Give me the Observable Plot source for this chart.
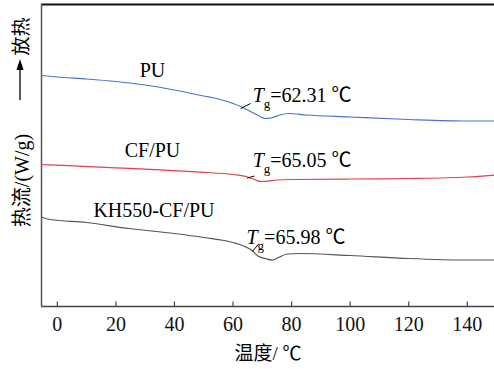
<!DOCTYPE html>
<html><head><meta charset="utf-8">
<script src="https://cdn.jsdelivr.net/npm/d3@7"></script>
<script src="https://cdn.jsdelivr.net/npm/@observablehq/plot@0.6"></script>
<style>body{margin:0;background:#fff} svg{display:block}</style>
</head><body><div id="chart"></div>
<script>
// Series names and their Tg labels
const seriesNames = ["PU", "CF/PU", "KH550-CF/PU"];
const tgValues = ["62.31", "65.05", "65.98"];
const xTicks = [0, 20, 40, 60, 80, 100, 120, 140];

// PU curve (temperature °C, heat flow arbitrary W/g units)
const tempPU = [-5.4, 0, 10, 20, 30, 40, 50, 55, 60, 63, 66, 69, 71, 73, 76, 79, 85, 100, 120, 140, 149.3];
const flowPU = [2.31, 2.295, 2.275, 2.25, 2.215, 2.165, 2.105, 2.075, 2.03, 1.995, 1.95, 1.905, 1.88, 1.885, 1.915, 1.93, 1.915, 1.895, 1.87, 1.855, 1.855];

// CF/PU curve
const tempCF = [-5.4, 0, 20, 35, 49, 60, 65, 67.5, 69, 71, 75, 80, 100, 120, 140, 149.3];
const flowCF = [1.42, 1.413, 1.387, 1.367, 1.343, 1.32, 1.295, 1.268, 1.252, 1.252, 1.265, 1.27, 1.275, 1.28, 1.295, 1.315];

// KH550-CF/PU curve
const tempKH = [-5.4, -2.5, 10, 24.5, 40, 50, 60, 64, 66.5, 68.5, 71, 73.5, 75.5, 78.5, 83, 100, 120, 140, 149.3];
const flowKH = [0.895, 0.87, 0.84, 0.78, 0.73, 0.69, 0.64, 0.60, 0.56, 0.505, 0.48, 0.465, 0.49, 0.525, 0.53, 0.51, 0.48, 0.465, 0.465];

const temps = [tempPU, tempCF, tempKH];
const flows = [flowPU, flowCF, flowKH];
const colors = ["#4a72c8", "#e0424e", "#555555"];

const rows = seriesNames.flatMap((s, i) => temps[i].map((t, j) => ({series: s, T: t, v: flows[i][j]})));

const xDomain = [-5.4, 149.3];
const yDomain = [0, 3.02];
const serif = "'Liberation Serif', 'Times New Roman', 'Noto Sans CJK SC', serif";
const cjk = "'Liberation Serif', 'Noto Sans CJK SC', serif";

// annotation placement
const nameLabels = [
  {text: "PU", T: 32.5, v: 2.36},
  {text: "CF/PU", T: 32.5, v: 1.56},
  {text: "KH550-CF/PU", T: 33, v: 0.96}
];
const tgLabels = [
  {text: "Tg=" + tgValues[0] + " ℃", T: 66.7, v: 2.11},
  {text: "Tg=" + tgValues[1] + " ℃", T: 66.7, v: 1.46},
  {text: "Tg=" + tgValues[2] + " ℃", T: 64.6, v: 0.685}
];
const leaders = [
  {T1: 62.6, v1: 1.98, T2: 66.0, v2: 2.03},
  {T1: 64.8, v1: 1.283, T2: 67.3, v2: 1.305},
  {T1: 66.6, v1: 0.55, T2: 68.8, v2: 0.627}
];
const yLabels = [
  {text: "热流/(W/g)", T: -11.7, v: 1.26, size: 20},
  {text: "放热", T: -12.1, v: 2.70, size: 19}
];

const chart = Plot.plot({
  width: 494,
  height: 369,
  marginLeft: 41,
  marginRight: 0,
  marginTop: 4,
  marginBottom: 63,
  style: {fontFamily: serif, fontSize: "20px", color: "#000", background: "#fff"},
  x: {domain: xDomain},
  y: {domain: yDomain, axis: null},
  color: {domain: seriesNames, range: colors},
  marks: [
    Plot.ruleX(xTicks, {x: d => d, y1: 0, y2: 0.045, stroke: "#444", strokeWidth: 1.2}),
    Plot.axisX({ticks: xTicks, tickSize: 0, tickPadding: 10, label: null, fontSize: 20, fill: "#111"}),
    Plot.ruleY([yDomain[0]], {stroke: "#444", strokeWidth: 1.5}),
    Plot.ruleY([yDomain[1]], {stroke: "#111", strokeWidth: 2}),
    Plot.ruleX([xDomain[0]], {stroke: "#555", strokeWidth: 1.5}),
    Plot.line(rows, {x: "T", y: "v", z: "series", stroke: "series", strokeWidth: 1.2, curve: "monotone-x"}),
    Plot.link(leaders, {x1: "T1", y1: "v1", x2: "T2", y2: "v2", stroke: "#000", strokeWidth: 1}),
    Plot.text(nameLabels, {x: "T", y: "v", text: "text", fontSize: 20, fill: "#000", textAnchor: "middle"}),
    Plot.text(tgLabels, {x: "T", y: "v", text: "text", fontSize: 20, fill: "#000", textAnchor: "start"}),
    Plot.text(["温度/ ℃"], {frameAnchor: "bottom", dy: 53, fontSize: 19, fontFamily: cjk, fill: "#000"}),
    Plot.text(yLabels, {x: "T", y: "v", text: "text", rotate: -90, fontSize: "size", fontFamily: cjk, fill: "#000", textAnchor: "middle"})
  ]
});

// Format Tg labels with italic T and subscript g
chart.querySelectorAll("text").forEach(t => {
  const s = t.textContent;
  if (s.startsWith("Tg=")) {
    const rest = s.slice(2);
    t.textContent = "";
    const ns = "http://www.w3.org/2000/svg";
    const a = document.createElementNS(ns, "tspan"); a.setAttribute("font-style", "italic"); a.textContent = "T";
    const b = document.createElementNS(ns, "tspan"); b.setAttribute("font-size", "13px"); b.setAttribute("dy", "6"); b.textContent = "g";
    const c = document.createElementNS(ns, "tspan"); c.setAttribute("dy", "-6"); c.textContent = rest;
    t.append(a, b, c);
  }
});

// Exotherm arrow next to "放热"
const svg = d3.select(chart);
svg.append("line").attr("x1", 20).attr("x2", 20).attr("y1", 100).attr("y2", 68).attr("stroke", "#000").attr("stroke-width", 1.3);
svg.append("path").attr("d", "M20,59 L16.5,70 L23.5,70 Z").attr("fill", "#000");

document.getElementById("chart").append(chart);
</script>
</body></html>
